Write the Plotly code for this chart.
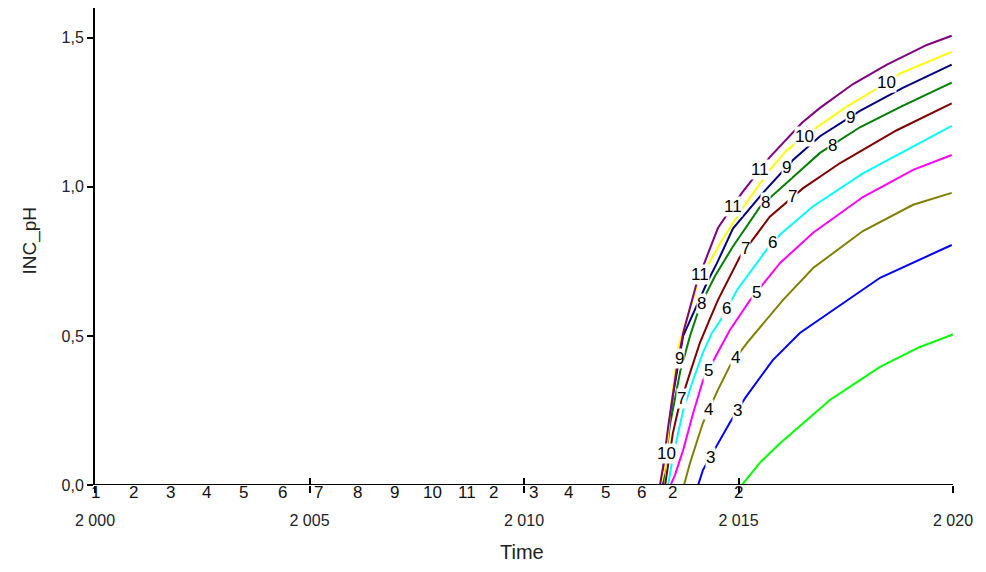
import numpy as np
import plotly.graph_objects as go

# ---------------- data ----------------
series_names = ["1", "2", "3", "4", "5", "6", "7", "8", "9", "10", "11"]
series_colors = ["#00FF00", "#FF0000", "#0000FF", "#808000", "#FF00FF", "#00FFFF",
                 "#800000", "#008000", "#000080", "#FFFF00", "#800080"]

t1 = [2000, 2015.08, 2015.5, 2015.97, 2017.13, 2018.30, 2019.23, 2020.0]
v1 = [0, 0, 0.075, 0.14, 0.285, 0.396, 0.463, 0.505]

t2 = [2000, 2020]
v2 = [0, 0]

t3 = [2000, 2014.06, 2014.17, 2014.52, 2014.80, 2015.17, 2015.80, 2016.43, 2017.53, 2018.30, 2019.97]
v3 = [0, 0, 0.05, 0.14, 0.21, 0.295, 0.419, 0.51, 0.62, 0.695, 0.805]

t4 = [2000, 2013.73, 2013.87, 2014.17, 2014.52, 2014.80, 2015.20, 2016.04, 2016.74, 2017.90, 2019.07, 2019.97]
v4 = [0, 0, 0.074, 0.208, 0.319, 0.40, 0.477, 0.621, 0.728, 0.852, 0.94, 0.98]

t5 = [2000, 2013.42, 2013.52, 2013.71, 2013.94, 2014.17, 2014.50, 2014.80, 2015.27, 2015.97, 2016.74, 2017.90, 2019.07, 2019.97]
v5 = [0, 0, 0.034, 0.117, 0.24, 0.35, 0.44, 0.52, 0.62, 0.745, 0.846, 0.966, 1.057, 1.107]

t6 = [2000, 2013.36, 2013.47, 2013.71, 2013.94, 2014.17, 2014.38, 2014.57, 2014.97, 2015.66, 2015.97, 2016.74, 2017.90, 2019.07, 2019.97]
v6 = [0, 0, 0.094, 0.25, 0.352, 0.443, 0.51, 0.55, 0.655, 0.79, 0.84, 0.935, 1.045, 1.135, 1.205]

t7 = [2000, 2013.29, 2013.47, 2013.59, 2013.87, 2014.10, 2014.34, 2014.52, 2015.03, 2015.73, 2016.50, 2017.37, 2018.69, 2019.97]
v7 = [0, 0, 0.174, 0.25, 0.376, 0.477, 0.56, 0.62, 0.765, 0.90, 0.995, 1.08, 1.19, 1.28]

t8 = [2000, 2013.24, 2013.40, 2013.64, 2013.87, 2014.10, 2014.45, 2014.87, 2015.50, 2016.27, 2016.90, 2017.83, 2018.80, 2019.97]
v8 = [0, 0, 0.20, 0.38, 0.50, 0.60, 0.70, 0.80, 0.933, 1.034, 1.114, 1.20, 1.27, 1.35]

t9 = [2000, 2013.22, 2013.36, 2013.47, 2013.71, 2014.27, 2014.50, 2014.87, 2015.57, 2016.27, 2016.90, 2017.83, 2018.83, 2019.97]
v9 = [0, 0, 0.17, 0.30, 0.50, 0.68, 0.745, 0.86, 0.98, 1.09, 1.17, 1.255, 1.332, 1.41]

t10 = [2000, 2013.19, 2013.29, 2013.40, 2013.59, 2014.06, 2014.57, 2015.10, 2015.73, 2016.13, 2016.83, 2017.53, 2018.23, 2018.76, 2019.97]
v10 = [0, 0, 0.06, 0.23, 0.46, 0.68, 0.81, 0.93, 1.057, 1.124, 1.20, 1.27, 1.33, 1.38, 1.453]

t11 = [2000, 2013.17, 2013.24, 2013.36, 2013.57, 2013.71, 2014.03, 2014.52, 2015.08, 2015.73, 2016.48, 2016.90, 2017.67, 2018.46, 2019.39, 2019.97]
v11 = [0, 0, 0.06, 0.195, 0.40, 0.51, 0.68, 0.862, 0.98, 1.10, 1.215, 1.265, 1.345, 1.41, 1.476, 1.507]

series_t = [t1, t2, t3, t4, t5, t6, t7, t8, t9, t10, t11]
series_v = [v1, v2, v3, v4, v5, v6, v7, v8, v9, v10, v11]

# years at which each rising curve carries its number label
label_years = {
    "3": [2014.34, 2014.97],
    "4": [2014.31, 2014.94],
    "5": [2014.29, 2015.41],
    "6": [2014.73, 2015.80],
    "7": [2013.68, 2015.17, 2016.27],
    "8": [2014.13, 2015.62, 2017.18],
    "9": [2013.62, 2016.11, 2017.60],
    "10": [2013.32, 2016.53, 2018.46],
    "11": [2014.10, 2014.87, 2015.50],
}

# labels printed along the zero line (curves still flat at 0)
zero_label_text = ["1", "2", "3", "4", "5", "6", "7", "8", "9", "10", "11",
                   "2", "3", "4", "5", "6", "2", "2"]
zero_label_years = [2000.0, 2000.89, 2001.75, 2002.61, 2003.47, 2004.36, 2005.20, 2006.11,
                    2006.97, 2007.86, 2008.67, 2009.30, 2010.21, 2011.03, 2011.89, 2012.75,
                    2013.45, 2014.99]

x_ticks = [2000, 2005, 2010, 2015, 2020]
y_ticks = [0.0, 0.5, 1.0, 1.5]

FONT = "Liberation Sans, Arial, sans-serif"

fig = go.Figure()
for name, col, t, v in zip(series_names, series_colors, series_t, series_v):
    fig.add_trace(go.Scatter(x=t, y=v, mode="lines", name=name,
                             line=dict(color=col, width=2), showlegend=False,
                             hoverinfo="skip"))

annotations = []
for name, yrs in label_years.items():
    i = series_names.index(name)
    for yr in yrs:
        yv = float(np.interp(yr, series_t[i], series_v[i]))
        annotations.append(dict(x=yr, y=yv, xref="x", yref="y", text=name,
                                showarrow=False, bgcolor="white", borderpad=0,
                                font=dict(family=FONT, size=17, color="black")))

for txt, yr in zip(zero_label_text, zero_label_years):
    annotations.append(dict(x=yr, y=0, xref="x", yref="y", text=txt, showarrow=False,
                            yanchor="middle", yshift=-7,
                            font=dict(family=FONT, size=17, color="#111111")))

annotations.append(dict(x=-0.076, y=0.512, xref="paper", yref="paper", text="INC_pH",
                        textangle=-90, showarrow=False, xanchor="center", yanchor="middle",
                        font=dict(family=FONT, size=19, color="#222222")))
annotations.append(dict(x=0.498, y=-0.14, xref="paper", yref="paper", text="Time",
                        showarrow=False, yanchor="middle",
                        font=dict(family=FONT, size=20, color="#222222")))

fig.update_layout(
    width=986, height=572,
    margin=dict(l=95, r=33, t=8, b=87),
    paper_bgcolor="white", plot_bgcolor="white",
    separators=", ",
    annotations=annotations,
    font=dict(family=FONT, size=16, color="#222222"),
    # black base line at value 0 drawn over the flat (zero) parts of the curves
    shapes=[dict(type="line", xref="paper", x0=0, x1=1, yref="y", y0=0, y1=0,
                 line=dict(color="black", width=2), layer="above")],
    xaxis=dict(range=[2000, 2020], tickvals=x_ticks, tickformat=",d",
               showgrid=False, zeroline=False, showline=False,
               ticks="outside", ticklen=7, tickwidth=2, tickcolor="black",
               ticklabelstandoff=14,
               tickfont=dict(family=FONT, size=16, color="#222222")),
    xaxis2=dict(range=[2000, 2020], matches="x", overlaying="x", anchor="y",
                tickvals=x_ticks, showticklabels=False, showgrid=False, zeroline=False,
                ticks="inside", ticklen=7, tickwidth=2, tickcolor="black", side="bottom"),
    yaxis=dict(range=[0, 1.6], tickvals=y_ticks, tickformat=".1f",
               showgrid=False, zeroline=False, showline=True, linecolor="black",
               linewidth=2, ticks="outside", ticklen=6, tickwidth=2, tickcolor="black",
               layer="above traces",
               tickfont=dict(family=FONT, size=16, color="#222222")),
)
fig.add_trace(go.Scatter(x=[2000], y=[0], xaxis="x2", mode="lines", showlegend=False,
                         hoverinfo="skip", line=dict(width=0)))

fig.write_html("out.html")
